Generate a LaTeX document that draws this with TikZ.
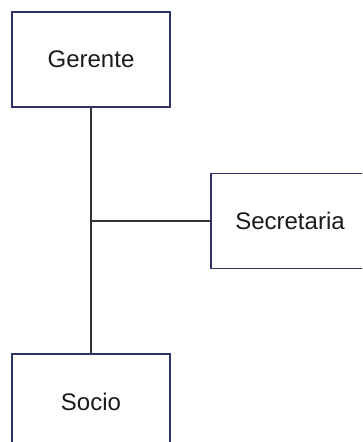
\documentclass[tikz,border=0pt]{standalone}
\usepackage{fontspec}
\setmainfont{Liberation Sans}
\definecolor{boxline}{HTML}{2E3566}
\definecolor{conn}{HTML}{333333}
\definecolor{txt}{HTML}{1A1A1A}
\begin{document}
\begin{tikzpicture}[x=1pt,y=-1pt,
  box/.style={draw=boxline,line width=1.2pt,fill=white,minimum width=158pt,minimum height=95pt,inner sep=0pt,text=txt,font=\fontsize{24}{28}\selectfont},
  conn/.style={draw=conn,line width=1.1pt}]
\useasboundingbox (0,0) rectangle (362,442);
\clip (0,0) rectangle (362,442);
\node[box] (ger) at (91,59.5) {Gerente};
\node[box] (sec) at (290,221) {Secretaria};
\node[box] (soc) at (91,401.5) {Socio};
\coordinate (j) at (91,221);
\draw[conn] (ger.south) -- (soc.north);
\draw[conn] (j) -- (sec.west);
\end{tikzpicture}
\end{document}
